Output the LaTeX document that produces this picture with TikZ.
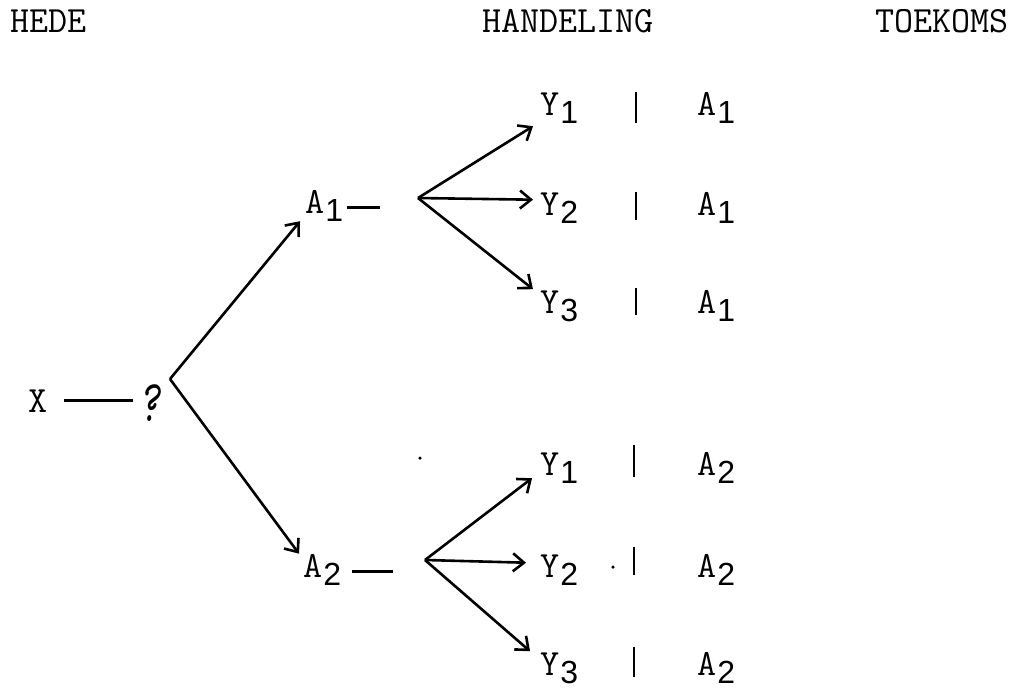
\documentclass[tikz,border=0pt]{standalone}
\usepackage{fontspec}
\usepackage{graphicx}
\newfontfamily\subfont{Liberation Sans}
\usetikzlibrary{arrows.meta,calc}
\newcommand{\sbs}[1]{\kern1pt\raisebox{-8pt}{\fontsize{32}{32}\selectfont\subfont #1}}
\begin{document}
\begin{tikzpicture}[x=1pt,y=-1pt,
  lab/.style={inner sep=0pt, anchor=base west, font=\fontsize{37}{40}\selectfont\ttfamily},
  conn/.style={line width=2.6pt, -{Straight Barb[length=11pt,width=18pt,line width=2.6pt]}},
  plain/.style={line width=2.6pt},
  sepbar/.style={line width=2.4pt},
  speck/.style={fill=black, inner sep=0pt, minimum size=3.5pt, circle}]
\useasboundingbox (0,0) rectangle (1016,691);
% headings
\node[lab] (hede) at (10,32) {HEDE};
\node[lab] (hand) at (482,32) {HANDELING};
\node[lab] (toek) at (875,32) {TOEKOMS};
% start
\node[lab] (x) at (28,412) {X};
\node[lab] (q) at (138,421) {\scalebox{1.1}[1.6]{\itshape ?}};
\coordinate (apex) at (170,379);
% actions
\node[lab] (a1) at (305,213) {A\sbs{1}};
\node[lab] (a2) at (303,577) {A\sbs{2}};
\coordinate (f1) at (418,198);
\coordinate (f2) at (425,560);
% outcomes
\node[lab] (u1) at (540,115) {Y\sbs{1}};
\node[lab] (u2) at (540,215) {Y\sbs{2}};
\node[lab] (u3) at (540,313) {Y\sbs{3}};
\node[lab] (l1) at (540,475) {Y\sbs{1}};
\node[lab] (l2) at (540,577) {Y\sbs{2}};
\node[lab] (l3) at (540,675) {Y\sbs{3}};
\node[lab] (ru1) at (697,115) {A\sbs{1}};
\node[lab] (ru2) at (697,215) {A\sbs{1}};
\node[lab] (ru3) at (697,313) {A\sbs{1}};
\node[lab] (rl1) at (697,475) {A\sbs{2}};
\node[lab] (rl2) at (697,577) {A\sbs{2}};
\node[lab] (rl3) at (697,675) {A\sbs{2}};
% connectors
\draw[plain, shorten <=17pt, shorten >=5pt] (x.east) -- (x.east -| q.west);
\draw[conn] (apex) -- ($(a1.south west)+(-5,0)$);
\draw[conn] (apex) -- ($(a2.north west)+(-4,0)$);
\draw[plain] ($(a1.east)+(4,2)$) -- ++(33,0);
\draw[plain] ($(a2.east)+(11,2)$) -- ++(41,0);
\draw[conn] (f1) -- ($(u1.south west)+(-7,3)$);
\draw[conn] (f1) -- ($(u2.west)+(-7,-8)$);
\draw[conn] (f1) -- ($(u3.north west)+(-7,-1)$);
\draw[conn] (f2) -- ($(l1.south west)+(-8,-5)$);
\draw[conn] (f2) -- ($(l2.west)+(-14,-7)$);
\draw[conn] (f2) -- ($(l3.north west)+(-10,-1)$);
% separators
\draw[sepbar] (636,92) -- (636,123);
\draw[sepbar] (636,192) -- (636,220);
\draw[sepbar] (636,288) -- (636,315);
\draw[sepbar] (634,445) -- (634,477);
\draw[sepbar] (634,547) -- (634,575);
\draw[sepbar] (634,647) -- (634,677);
% specks
\node[speck] (d1) at (420,458) {};
\node[speck] (d2) at (613,567) {};
\end{tikzpicture}
\end{document}
